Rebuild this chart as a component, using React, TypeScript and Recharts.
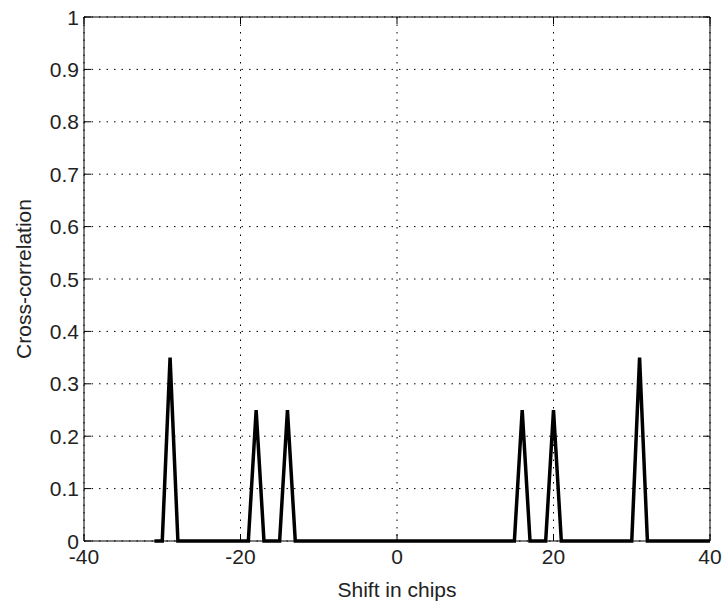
import { LineChart, Line, XAxis, YAxis, CartesianGrid, ReferenceLine } from 'recharts';

// correlation vertices (shift in chips -> value)
const shifts = [-31, -30, -29, -28, -19, -18, -17, -15, -14, -13, 15, 16, 17, 19, 20, 21, 30, 31, 32, 40];
const corr = [0, 0, 0.35, 0, 0, 0.25, 0, 0, 0.25, 0, 0, 0.25, 0, 0, 0.25, 0, 0, 0.35, 0, 0];

const xTicks = [-40, -20, 0, 20, 40];
const yTicks = [0, 0.1, 0.2, 0.3, 0.4, 0.5, 0.6, 0.7, 0.8, 0.9, 1];

const data = shifts.map((s, i) => ({ shift: s, value: corr[i] }));

const W = 724;
const H = 604;
const margin = { top: 17, right: 14, bottom: 0, left: 0 };
const Y_AXIS_W = 84;
const X_AXIS_H = 63;
const plotLeft = margin.left + Y_AXIS_W;
const plotRight = W - margin.right;
const plotTop = margin.top;
const plotBottom = H - margin.bottom - X_AXIS_H;
const TICK = 7;
const font = '"Liberation Sans", Arial, sans-serif';
const fontSize = 21;

function YTick({ x, y, payload }: any) {
  return (
    <g>
      <line x1={plotLeft} x2={plotLeft + TICK} y1={y} y2={y} stroke="#000" />
      <line x1={plotRight - TICK} x2={plotRight} y1={y} y2={y} stroke="#000" />
      <text x={x} y={y} dy="0.36em" textAnchor="end" fontFamily={font} fontSize={fontSize} fill="#222">
        {String(payload.value)}
      </text>
    </g>
  );
}

function XTick({ x, y, payload }: any) {
  return (
    <g>
      <line x1={x} x2={x} y1={plotBottom} y2={plotBottom - TICK} stroke="#000" />
      <line x1={x} x2={x} y1={plotTop} y2={plotTop + TICK} stroke="#000" />
      <text x={x} y={y} dy="0.72em" textAnchor="middle" fontFamily={font} fontSize={fontSize} fill="#222">
        {String(payload.value)}
      </text>
    </g>
  );
}

export default function App() {
  return (
    <div style={{ position: 'absolute', left: 0, top: 0, background: '#fff' }}>
      <LineChart width={W} height={H} data={data} margin={margin}>
        <CartesianGrid
          stroke="#000"
          strokeDasharray="1.5 6"
          horizontalValues={yTicks}
          verticalValues={xTicks}
        />
        <XAxis
          dataKey="shift"
          type="number"
          domain={[-40, 40]}
          ticks={xTicks}
          height={X_AXIS_H}
          tickLine={false}
          tickSize={0}
          tickMargin={8}
          axisLine={{ stroke: '#000' }}
          tick={<XTick />}
          interval={0}
          label={{
            content: ({ viewBox }: any) => (
              <text
                x={viewBox.x + viewBox.width / 2}
                y={viewBox.y + viewBox.height - 7}
                textAnchor="middle"
                fontFamily={font}
                fontSize={fontSize}
                fill="#222"
              >
                Shift in chips
              </text>
            ),
          }}
        />
        <YAxis
          type="number"
          domain={[0, 1]}
          ticks={yTicks}
          width={Y_AXIS_W}
          tickLine={false}
          tickSize={0}
          tickMargin={5}
          axisLine={{ stroke: '#000' }}
          tick={<YTick />}
          interval={0}
          label={{
            content: ({ viewBox }: any) => {
              const cx = 23;
              const cy = viewBox.y + viewBox.height / 2;
              return (
                <text
                  x={cx}
                  y={cy}
                  transform={`rotate(-90 ${cx} ${cy})`}
                  textAnchor="middle"
                  dominantBaseline="central"
                  fontFamily={font}
                  fontSize={fontSize}
                  fill="#222"
                >
                  Cross-correlation
                </text>
              );
            },
          }}
        />
        <ReferenceLine x={40} stroke="#000" />
        <ReferenceLine y={1} stroke="#000" />
        <Line
          type="linear"
          dataKey="value"
          stroke="#000"
          strokeWidth={3.5}
          strokeLinejoin="miter"
          dot={false}
          isAnimationActive={false}
        />
      </LineChart>
    </div>
  );
}
